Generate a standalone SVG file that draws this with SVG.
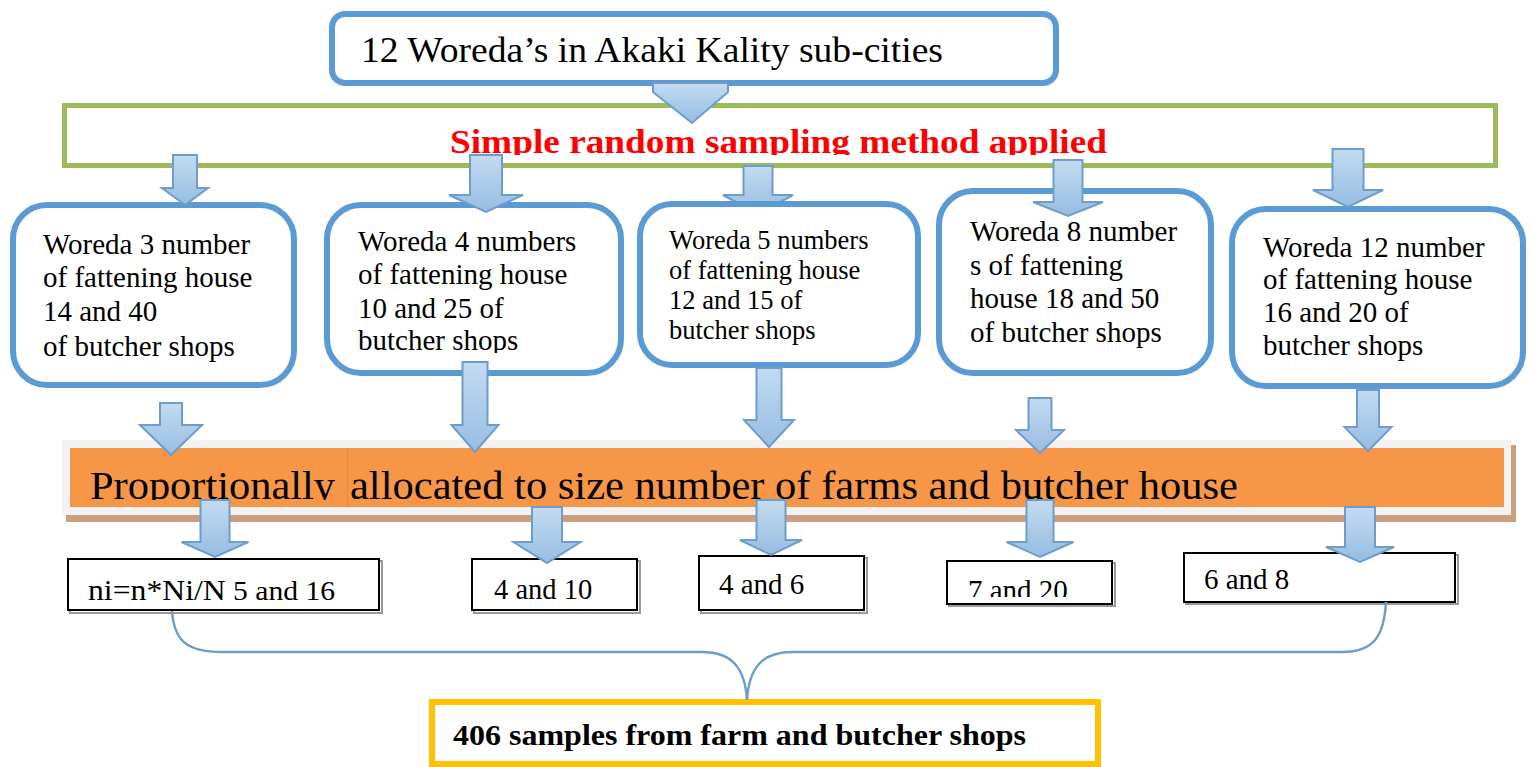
<svg xmlns="http://www.w3.org/2000/svg" width="1533" height="767" viewBox="0 0 1533 767">
  <style>
    text { font-family: "Liberation Serif", "Times New Roman", serif; fill: #000; }
    .rbox { fill: #fff; stroke: #5b9bd5; stroke-width: 6; }
    .t29 { font-size: 29px; }
    .t26 { font-size: 26.5px; }
    .t28 { font-size: 28.5px; }
    .sq { fill: #fff; stroke: #000; stroke-width: 2; }
    .sqsh { fill: none; stroke: #9a9a9a; stroke-width: 2; }
    .arrow { fill: url(#arrowFill); stroke: #6f9dca; stroke-width: 2; stroke-linejoin: miter; }
    .brace { fill: none; stroke: #6f9dca; stroke-width: 2.5; }
  </style>
  <defs>
    <linearGradient id="arrowFill" x1="0" y1="0" x2="0" y2="1">
      <stop offset="0" stop-color="#c3dbf1"/>
      <stop offset="1" stop-color="#97bde2"/>
    </linearGradient>
    <clipPath id="clipRed"><rect x="60" y="100" width="1440" height="55"/></clipPath>
    <clipPath id="clipOrange"><rect x="60" y="440" width="1450" height="60"/></clipPath>
    <clipPath id="clipBox2"><rect x="320" y="200" width="310" height="153"/></clipPath>
    <clipPath id="clipB4"><rect x="940" y="555" width="180" height="42"/></clipPath>
  </defs>

  <rect width="1533" height="767" fill="#fff"/>

  <!-- top node -->
  <g id="n-top">
    <rect class="rbox" x="332" y="14" width="724" height="69" rx="13"/>
    <text x="361" y="62" font-size="36.5" textLength="582" lengthAdjust="spacingAndGlyphs">12 Woreda’s in Akaki Kality sub-cities</text>
  </g>

  <!-- sampling method band -->
  <g id="n-sampling">
    <rect x="64.5" y="105.5" width="1431" height="60" fill="#fff" stroke="#9bbb59" stroke-width="5"/>
    <text x="450" y="153" font-size="34" font-weight="bold" fill="#ff0000" style="fill:#ff0000" textLength="657" lengthAdjust="spacingAndGlyphs" clip-path="url(#clipRed)">Simple random sampling method applied</text>
  </g>

  <!-- arrow sitting under the Woreda 5 box -->
  <g id="connectors-under">
    <polygon class="arrow" points="743.5,166 772.5,166 772.5,195 793,195 758,214 723,195 743.5,195"/>
  </g>

  <!-- woreda nodes -->
  <g id="n-woreda3">
    <rect class="rbox" x="13" y="205" width="281" height="180" rx="34"/>
    <text class="t29" x="43" y="254">Woreda 3 number</text>
    <text class="t29" x="43" y="287">of fattening house</text>
    <text class="t29" x="43" y="321">14 and 40</text>
    <text class="t29" x="43" y="356">of butcher shops</text>
  </g>
  <g id="n-woreda4">
    <rect class="rbox" x="327" y="205" width="294" height="168" rx="34"/>
    <g clip-path="url(#clipBox2)">
      <text class="t29" x="358" y="251">Woreda 4 numbers</text>
      <text class="t29" x="358" y="284">of fattening house</text>
      <text class="t29" x="358" y="318">10 and 25 of</text>
      <text class="t29" x="358" y="350">butcher shops</text>
    </g>
  </g>
  <g id="n-woreda5">
    <rect class="rbox" x="640" y="204" width="278" height="161" rx="32"/>
    <text class="t26" x="669" y="249">Woreda 5 numbers</text>
    <text class="t26" x="669" y="279">of fattening house</text>
    <text class="t26" x="669" y="309">12 and 15 of</text>
    <text class="t26" x="669" y="339">butcher shops</text>
  </g>
  <g id="n-woreda8">
    <rect class="rbox" x="939" y="191" width="272" height="182" rx="34"/>
    <text class="t29" x="970" y="241">Woreda 8 number</text>
    <text class="t29" x="970" y="275">s of fattening</text>
    <text class="t29" x="970" y="308">house 18 and 50</text>
    <text class="t29" x="970" y="342">of butcher shops</text>
  </g>
  <g id="n-woreda12">
    <rect class="rbox" x="1232" y="209" width="291" height="177" rx="34"/>
    <text class="t29" x="1263" y="257">Woreda 12 number</text>
    <text class="t29" x="1263" y="289">of fattening house</text>
    <text class="t29" x="1263" y="322">16 and 20 of</text>
    <text class="t29" x="1263" y="355">butcher shops</text>
  </g>

  <!-- proportional allocation band -->
  <g id="n-allocation">
    <rect x="66" y="445" width="1450" height="77" fill="#c99f7f"/>
    <rect x="62" y="440" width="1449" height="75" fill="#f2f2f2"/>
    <rect x="70" y="448" width="1434" height="59" fill="#f79646"/>
    <line x1="347.5" y1="448" x2="347.5" y2="507" stroke="#e98a3c" stroke-width="1"/>
    <g clip-path="url(#clipOrange)">
      <text x="90" y="499" font-size="41" textLength="245" lengthAdjust="spacingAndGlyphs">Proportionally</text>
      <text x="350" y="499" font-size="41" textLength="888" lengthAdjust="spacingAndGlyphs">allocated to size number of farms and butcher house</text>
    </g>
  </g>

  <!-- allocated sample nodes -->
  <g id="n-alloc3">
    <rect class="sqsh" x="70" y="561" width="312" height="52"/>
    <rect class="sq" x="68" y="559" width="311" height="51"/>
    <text x="88" y="600" font-size="30" textLength="247" lengthAdjust="spacingAndGlyphs">ni=n*Ni/N<tspan font-size="28"> 5 and 16</tspan></text>
  </g>
  <g id="n-alloc4">
    <rect class="sqsh" x="474" y="561" width="166" height="52"/>
    <rect class="sq" x="472" y="559" width="165" height="51"/>
    <text class="t28" x="494" y="599">4 and 10</text>
  </g>
  <g id="n-alloc5">
    <rect class="sqsh" x="701" y="558" width="166" height="55"/>
    <rect class="sq" x="699" y="556" width="165" height="54"/>
    <text class="t29" x="719" y="594">4 and 6</text>
  </g>
  <g id="n-alloc8">
    <rect class="sqsh" x="949" y="563" width="166" height="43"/>
    <rect class="sq" x="947" y="561" width="165" height="43"/>
    <text class="t29" x="968" y="600" clip-path="url(#clipB4)">7 and 20</text>
  </g>
  <g id="n-alloc12">
    <rect class="sqsh" x="1186" y="555" width="272" height="49"/>
    <rect class="sq" x="1184" y="553" width="271" height="49"/>
    <text class="t29" x="1204" y="589">6 and 8</text>
  </g>

  <!-- total sample node -->
  <g id="n-total">
    <rect x="432" y="702" width="666" height="62" fill="#fff" stroke="#ffc000" stroke-width="6"/>
    <text x="453" y="745" font-size="30" font-weight="bold" textLength="573" lengthAdjust="spacingAndGlyphs">406 samples from farm and butcher shops</text>
  </g>

  <!-- connectors -->
  <g id="connectors">
    <!-- top node to sampling band -->
    <polygon class="arrow" points="653,83 728,83 728,92 692,123 653,92"/>

    <!-- sampling band to woreda boxes -->
    <polygon class="arrow" points="173,155 197,155 197,188 208,188 185,205 162,188 173,188"/>
    <polygon class="arrow" points="470,155 502,155 502,195 523,195 486,212 449,195 470,195"/>
    <polygon class="arrow" points="1053.5,160 1082.5,160 1082.5,202 1103,202 1068,216 1033,202 1053.5,202"/>
    <polygon class="arrow" points="1332.5,149 1363.5,149 1363.5,190 1383,190 1348,207 1313,190 1332.5,190"/>

    <!-- woreda boxes to allocation band -->
    <polygon class="arrow" points="160,403 182,403 182,425 202,425 171,455 140,425 160,425"/>
    <polygon class="arrow" points="462.5,362 487.5,362 487.5,425 498.5,425 475,452 451.5,425 462.5,425"/>
    <polygon class="arrow" points="756.5,368 781.5,368 781.5,420 794,420 769,447 744,420 756.5,420"/>
    <polygon class="arrow" points="1028.5,398 1051.5,398 1051.5,430 1064,430 1040,453 1016,430 1028.5,430"/>
    <polygon class="arrow" points="1357,390 1379,390 1379,427 1391.5,427 1368,451 1344.5,427 1357,427"/>

    <!-- allocation band to allocated samples -->
    <polygon class="arrow" points="200.5,500 229.5,500 229.5,542 248.5,542 215,557 181.5,542 200.5,542"/>
    <polygon class="arrow" points="532,507 562,507 562,542 580.5,542 547,563 513.5,542 532,542"/>
    <polygon class="arrow" points="756.5,500 785.5,500 785.5,540 802,540 771,555 740,540 756.5,540"/>
    <polygon class="arrow" points="1026.5,500 1053.5,500 1053.5,542 1073.5,542 1040,557 1006.5,542 1026.5,542"/>
    <polygon class="arrow" points="1345,507 1375,507 1375,547 1394,547 1360,562 1326,547 1345,547"/>

    <!-- brace gathering the samples into the total -->
    <path class="brace" d="M172,611 C174,640 186,652 222,652 L702,652 C732,652 745,668 747,700"/>
    <path class="brace" d="M1386,602 C1384,636 1374,652 1342,652 L792,652 C762,652 749,668 747,700"/>
  </g>
</svg>
